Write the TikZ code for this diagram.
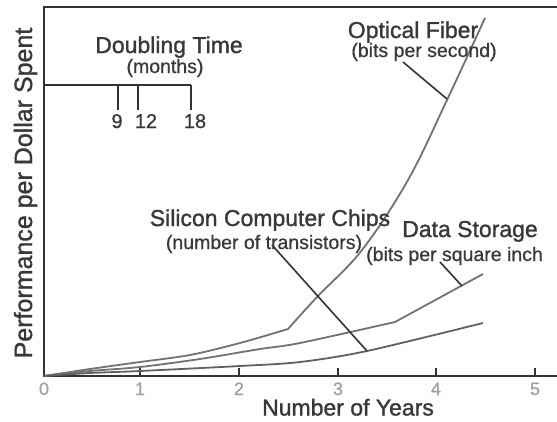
\documentclass[tikz,border=0pt]{standalone}
\usepackage{fontspec}
\setmainfont{Liberation Sans}
\newfontfamily\heavyfont{Liberation Sans}[FakeBold=1.2]
\newfontfamily\midfont{Liberation Sans}[FakeBold=0.6]
\definecolor{txt}{HTML}{383838}
\definecolor{axisc}{HTML}{333333}
\definecolor{curvec}{HTML}{727272}
\definecolor{tickc}{HTML}{A0A0A0}
\begin{document}
\begin{tikzpicture}[x=1pt,y=-1pt,
  lbl/.style={text=txt,font=\heavyfont\fontsize{23}{25}\selectfont,inner sep=0,anchor=base},
  sub/.style={text=txt,font=\midfont\fontsize{19.5}{21}\selectfont,inner sep=0,anchor=base},
  ticklbl/.style={text=tickc,font=\midfont\fontsize{18}{20}\selectfont,inner sep=0,anchor=base},
  dlbl/.style={text=txt,font=\midfont\fontsize{20}{22}\selectfont,inner sep=0,anchor=base},
  axisline/.style={draw=axisc,line width=2.6pt},
  curveline/.style={draw=curvec,line width=1.8pt,line join=round},
  leader/.style={draw=axisc,line width=1.6pt},
  xtick/.style={draw=axisc,line width=2pt},
  dtick/.style={draw=axisc,line width=1.4pt}]
\useasboundingbox (0,0) rectangle (557,421);
\fill[white] (0,0) rectangle (557,421);

% axes and frame
\coordinate (tr) at (557,7);
\coordinate (tl) at (44,7);
\coordinate (o) at (44,376);
\coordinate (br) at (557,376);
\draw[axisline] (tr) -- (tl) -- (o) -- (br);

% x ticks
\foreach \i/\x in {1/140,2/239,3/338,4/436,5/535}{
  \coordinate (t\i) at (\x,376);
  \coordinate (t\i u) at (\x,368);
  \draw[xtick] (t\i) -- (t\i u);
}
\foreach \i/\x in {0/44,1/140,2/239,3/338,4/436,5/535}{
  \node[ticklbl] (n\i) at (\x,395) {\i};
}
\node[lbl] (xlab) at (348,415.5) {Number of Years};
\node[lbl,rotate=90,font=\heavyfont\fontsize{25}{27}\selectfont] (ylab) at (32,193) {Performance per Dollar Spent};

% doubling time
\coordinate (d0) at (44,85);
\coordinate (d18) at (191,85);
\draw[axisline] (d0) -- (d18);
\coordinate (d9) at (118,85);  \coordinate (d9b) at (118,110);
\coordinate (d12) at (138,85); \coordinate (d12b) at (138,110);
\coordinate (d18b) at (191,110);
\draw[dtick] (d9) -- (d9b);
\draw[dtick] (d12) -- (d12b);
\draw[dtick] (d18) -- (d18b);
\node[dlbl] (l9) at (117,128) {9};
\node[dlbl] (l12) at (146,128) {12};
\node[dlbl] (l18) at (195,128) {18};
\node[lbl] (dt) at (169,53) {Doubling Time};
\node[sub] (dtm) at (165,73) {(months)};

% curves
\draw[curveline] plot[smooth,tension=0.5] coordinates {(44,376) (90,369) (140,362) (190,355) (240,343) (288,329)}
  -- plot[smooth,tension=0.6] coordinates {(288,329) (317,297) (362,250) (408,180) (447,100) (485,18)};
\draw[curveline] plot[smooth,tension=0.5] coordinates {(44,376) (90,371) (140,367) (200,359) (260,349) (300,343) (395,322)}
  -- (483,274);
\draw[curveline,draw=curvec!85!black] plot[smooth,tension=0.5] coordinates {(44,376) (90,373) (140,371) (240,366) (300,362) (367,351) (483,323)};

% labels
\node[lbl] (of) at (413,38) {Optical Fiber};
\node[sub] (ofs) at (424,57) {(bits per second)};
\coordinate (ofa) at (403,62);
\coordinate (ofb) at (447,99);
\draw[leader] (ofa) -- (ofb);

\node[lbl] (sc) at (270,226) {Silicon Computer Chips};
\node[sub] (scs) at (264,249) {(number of transistors)};
\coordinate (sca) at (272,245);
\coordinate (scb) at (367,351);
\draw[leader] (sca) -- (scb);

\node[lbl] (ds) at (470,237) {Data Storage};
\node[sub,anchor=base west] (dss) at (366,261) {(bits per square inch};
\coordinate (dsa) at (440,262);
\coordinate (dsb) at (462,286);
\draw[leader] (dsa) -- (dsb);
\end{tikzpicture}
\end{document}
